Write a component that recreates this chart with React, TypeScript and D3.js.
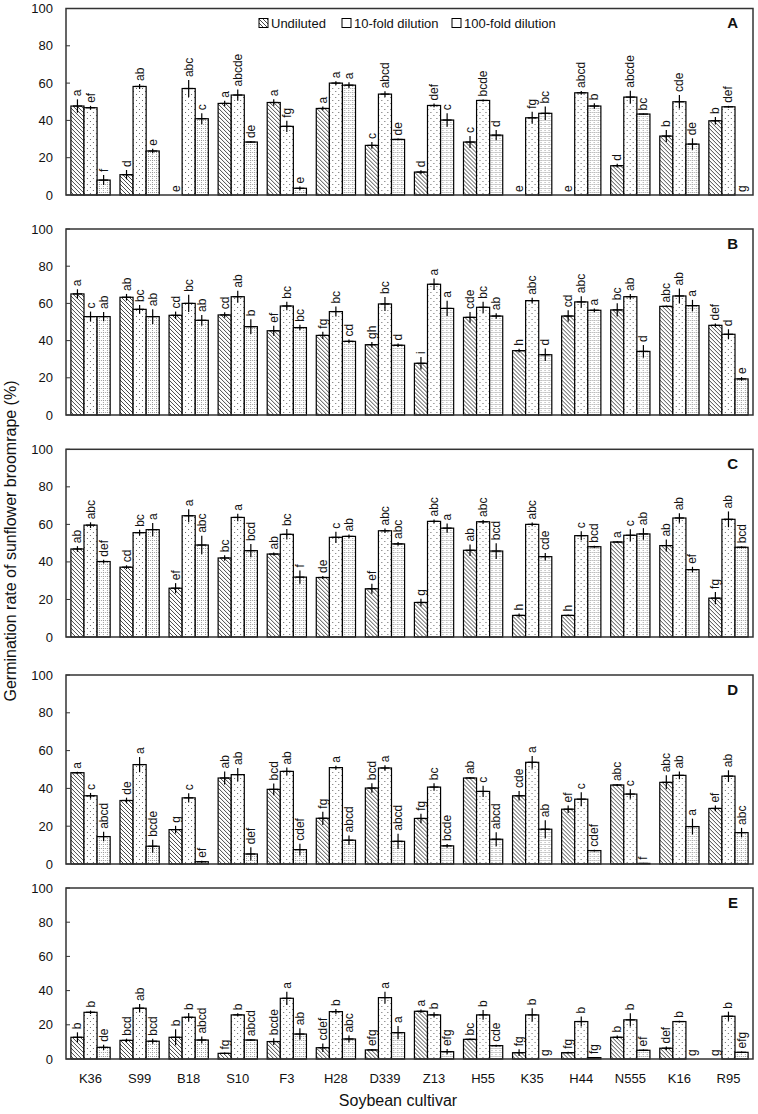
import React from 'react';
import * as d3 from 'd3';

const cultivars = ['K36', 'S99', 'B18', 'S10', 'F3', 'H28', 'D339', 'Z13', 'H55', 'K35', 'H44', 'N555', 'K16', 'R95'];
const seriesNames = ['Undiluted', '10-fold dilution', '100-fold dilution'];
const yTicks = [0, 20, 40, 60, 80, 100];
const panelLabels = ['A', 'B', 'C', 'D', 'E'];

// Panel A
const meansA = [
  [47.7, 10.9, 0, 49.1, 49.6, 46.4, 26.6, 12.3, 28.4, 0, 0, 15.7, 31.6, 39.8],
  [46.8, 58.2, 57.1, 53.6, 36.8, 60, 54.1, 48, 50.7, 41.4, 54.8, 52.5, 50, 47.3],
  [8.0, 23.6, 40.9, 28.4, 3.6, 58.9, 29.8, 40.2, 32.1, 43.8, 47.7, 43.4, 27.3, 0],
];
const errA = [
  [3.6, 2.5, 0, 1.5, 1.8, 1, 1.8, 1, 3.2, 0, 0, 1, 3.2, 2],
  [1, 1.3, 4.5, 3, 3, 1, 1.5, 1, 0.5, 3.2, 1, 3.4, 3.6, 0.5],
  [2.7, 1.2, 2.9, 0.5, 1, 1.5, 0.5, 3.6, 2.7, 3.6, 1.5, 0.3, 3.1, 0],
];
const lettersA = [
  ['a', 'd', 'e', 'a', 'a', 'a', 'c', 'd', 'c', 'e', 'e', 'd', 'b', 'b'],
  ['ef', 'ab', 'abc', 'abcde', 'fg', 'a', 'abcd', 'def', 'bcde', 'fg', 'abcd', 'abcde', 'cde', 'def'],
  ['f', 'e', 'c', 'de', 'e', 'a', 'de', 'c', 'd', 'bc', 'b', 'bc', 'de', 'g'],
];

// Panel B
const meansB = [
  [65.1, 63.3, 53.6, 53.8, 45.3, 42.8, 37.8, 27.8, 52.5, 34.6, 53.2, 56.5, 58.4, 48.2],
  [52.9, 56.8, 60, 63.6, 58.6, 55.6, 59.7, 70.3, 57.9, 61.5, 60.8, 63.6, 64, 43.4],
  [52.9, 52.9, 50.9, 47.5, 47, 39.6, 37.5, 57.3, 53.2, 32.4, 56.3, 34.2, 58.8, 19.4],
];
const errB = [
  [2.5, 1.8, 2, 1.5, 2.7, 2, 1.5, 3.4, 2.9, 1, 3.1, 3.6, 0.5, 1],
  [2.7, 2.3, 4.6, 3.2, 2.3, 2.7, 3.8, 3.1, 3, 1.5, 3.1, 1.5, 4, 2.7],
  [2.5, 4, 2.9, 4, 1.5, 1, 1, 4.1, 1.5, 3.4, 1, 3.4, 3.1, 1],
];
const lettersB = [
  ['a', 'ab', 'cd', 'cd', 'ef', 'fg', 'gh', 'i', 'cde', 'h', 'cd', 'bc', 'abc', 'def'],
  ['c', 'bc', 'bc', 'ab', 'bc', 'bc', 'bc', 'a', 'bc', 'abc', 'abc', 'ab', 'ab', 'd'],
  ['ab', 'ab', 'ab', 'b', 'bc', 'cd', 'd', 'a', 'ab', 'd', 'a', 'd', 'a', 'e'],
];

// Panel C
const meansC = [
  [46.9, 37.2, 26, 42.1, 44.2, 31.7, 25.7, 18.4, 46.2, 11.5, 11.5, 50.6, 48.7, 20.7],
  [59.6, 55.6, 64.6, 63.7, 54.7, 53.1, 56.6, 61.6, 61.4, 60, 54, 54.2, 63.4, 62.7],
  [40.2, 57.2, 49, 46, 31.9, 53.6, 49.6, 58, 45.8, 42.8, 48.1, 54.9, 35.9, 47.8],
];
const errC = [
  [1.5, 1, 2.7, 1.5, 0.8, 0.8, 2.7, 2, 3.1, 1, 0.5, 0.5, 3.2, 3.3],
  [1.5, 1.5, 3.5, 2, 2.8, 3, 1.2, 1, 1, 1, 2.4, 3.2, 2.5, 4.2],
  [1, 3.5, 4.9, 3.5, 3.5, 1, 1, 2.5, 4.2, 2, 0.5, 3.1, 1.5, 0.5],
];
const lettersC = [
  ['ab', 'cd', 'ef', 'bc', 'ab', 'de', 'ef', 'g', 'ab', 'h', 'h', 'a', 'ab', 'fg'],
  ['abc', 'bc', 'a', 'a', 'bc', 'c', 'abc', 'abc', 'abc', 'abc', 'c', 'c', 'ab', 'ab'],
  ['def', 'a', 'abc', 'bcd', 'f', 'ab', 'abc', 'a', 'bcd', 'cde', 'bcd', 'ab', 'ef', 'bcd'],
];

// Panel D
const meansD = [
  [48.3, 33.6, 18.2, 45.5, 39.5, 24.2, 40.2, 24.1, 45.5, 36.1, 29, 41.8, 43.2, 29.4],
  [36.1, 52.6, 35, 47.3, 49, 51, 50.8, 40.7, 38.4, 53.8, 34.3, 37, 46.9, 46.5],
  [14.5, 9.4, 1.2, 5.3, 7.6, 12.6, 12, 9.6, 13.1, 18.4, 7.1, 0.3, 19.8, 16.6],
];
const errD = [
  [0.5, 1.5, 2, 3.5, 3.1, 3.5, 2.5, 2.5, 0.5, 2.5, 2, 0.5, 3.7, 1.5],
  [1.5, 4, 2.5, 3.5, 2, 1, 1.5, 2, 3, 3.4, 3.7, 2.5, 2, 3.1],
  [2.5, 3.4, 0.5, 3.5, 3.1, 2.5, 4, 1, 3.7, 4.8, 0.5, 0.3, 4.2, 2.5],
];
const lettersD = [
  ['a', 'de', 'g', 'ab', 'bcd', 'fg', 'bcd', 'fg', 'ab', 'cde', 'ef', 'abc', 'abc', 'ef'],
  ['c', 'a', 'c', 'ab', 'ab', 'a', 'a', 'bc', 'c', 'a', 'c', 'c', 'ab', 'ab'],
  ['abcd', 'bcde', 'ef', 'def', 'cdef', 'abcd', 'abcd', 'bcde', 'abcd', 'ab', 'cdef', 'f', 'a', 'abc'],
];

// Panel E
const meansE = [
  [12.7, 10.9, 12.7, 3.3, 10.2, 6.6, 5.3, 27.9, 11.5, 3.7, 3.7, 12.7, 6.3, 0],
  [27.3, 29.7, 24.4, 25.8, 35.5, 27.7, 35.9, 25.8, 25.8, 25.8, 21.9, 22.9, 21.9, 25],
  [6.8, 10.4, 11.1, 11.1, 14.6, 11.7, 15.4, 4.3, 7.8, 0, 0.8, 5.1, 0, 3.9],
];
const errE = [
  [2.9, 1, 4.7, 0.5, 2, 2.5, 0.5, 1, 0.5, 2, 0.5, 1, 1, 0],
  [1, 2.5, 2.5, 1, 3.9, 1.5, 3.5, 1.5, 2.9, 3.9, 2.9, 3.9, 0.5, 2.7],
  [1.5, 1.5, 2, 0.5, 3.4, 2, 3.9, 1.5, 0.5, 0, 0.3, 0.5, 0, 0.5],
];
const lettersE = [
  ['b', 'bcd', 'b', 'fg', 'bcde', 'cdef', 'efg', 'a', 'bc', 'fg', 'fg', 'b', 'def', 'g'],
  ['b', 'ab', 'b', 'b', 'a', 'b', 'a', 'b', 'b', 'b', 'b', 'b', 'b', 'b'],
  ['de', 'bcd', 'abcd', 'abcd', 'ab', 'abc', 'a', 'efg', 'cde', 'g', 'fg', 'ef', 'g', 'efg'],
];

const FONT = 'Liberation Sans, Arial, Helvetica, sans-serif';

export default function App() {
  const W = 758;
  const H = 1114;
  const left = 66;
  const right = 753;

  const panelData = [
    { means: meansA, errs: errA, letters: lettersA, top: 8.5, bottom: 195 },
    { means: meansB, errs: errB, letters: lettersB, top: 229, bottom: 415 },
    { means: meansC, errs: errC, letters: lettersC, top: 449.3, bottom: 637 },
    { means: meansD, errs: errD, letters: lettersD, top: 675, bottom: 864 },
    { means: meansE, errs: errE, letters: lettersE, top: 888, bottom: 1059 },
  ];

  const x0 = d3.scaleBand<string>().domain(cultivars).range([left, right]).paddingInner(0.2).paddingOuter(0.1);
  const x1 = d3.scaleBand<string>().domain(seriesNames).range([0, x0.bandwidth()]).padding(0);
  const fills = ['url(#hatch)', 'url(#dots)', 'url(#grid)'];
  const legendFills = ['url(#hatch)', '#fff', '#fff'];

  const legendItems = [
    { name: seriesNames[0], x: 259 },
    { name: seriesNames[1], x: 342 },
    { name: seriesNames[2], x: 452 },
  ];

  return (
    <svg width={W} height={H} style={{ position: 'absolute', left: 0, top: 0, background: '#fff' }} fontFamily={FONT}>
      <defs>
        <pattern id="hatch" width="4" height="4" patternUnits="userSpaceOnUse">
          <rect width="4" height="4" fill="#fff" />
          <path d="M-1,-1 L5,5 M-1,3 L1,5 M3,-1 L5,1" stroke="#333" strokeWidth="0.9" />
        </pattern>
        <pattern id="dots" width="6" height="6" patternUnits="userSpaceOnUse">
          <rect width="6" height="6" fill="#fff" />
          <rect x="1" y="1" width="1" height="1" fill="#666" />
          <rect x="4" y="4" width="1" height="1" fill="#666" />
        </pattern>
        <pattern id="grid" width="4" height="4" patternUnits="userSpaceOnUse">
          <rect width="4" height="4" fill="#fff" />
          <path d="M0,0.5 H4 M0.5,0 V4" stroke="#8a8a8a" strokeWidth="0.8" strokeDasharray="1,1" />
        </pattern>
      </defs>
      <rect x={0} y={0} width={W} height={H} fill="#fff" />

      {panelData.map((p, pi) => {
        const y = d3.scaleLinear().domain([0, 100]).range([p.bottom, p.top]);
        return (
          <g key={pi}>
            {yTicks.map((t) => (
              <g key={t}>
                <line x1={left} x2={left + 4} y1={y(t)} y2={y(t)} stroke="#333" strokeWidth={1} />
                <text x={53} y={y(t)} textAnchor="end" dominantBaseline="central" fontSize={13} fill="#111">
                  {t}
                </text>
              </g>
            ))}
            {cultivars.map((c, ci) => (
              <g key={c} transform={`translate(${x0(c)},0)`}>
                {seriesNames.map((s, si) => {
                  const v = p.means[si][ci];
                  const e = p.errs[si][ci];
                  const bx = x1(s) as number;
                  const bw = x1.bandwidth();
                  const cx = bx + bw / 2;
                  const topV = v + e;
                  return (
                    <g key={s}>
                      {v > 0 && (
                        <rect x={bx} y={y(v)} width={bw} height={y(0) - y(v)} fill={fills[si]} stroke="#000" strokeWidth={1.2} />
                      )}
                      {(v > 0 || e > 0) && (
                        <g stroke="#000" strokeWidth={1.2}>
                          <line x1={cx} x2={cx} y1={y(Math.max(0, v - e))} y2={y(v + e)} />
                          <line x1={cx - 4.5} x2={cx + 4.5} y1={y(v)} y2={y(v)} />
                        </g>
                      )}
                      <text
                        transform={`translate(${cx},${y(topV) - 3}) rotate(-90)`}
                        textAnchor="start"
                        dominantBaseline="central"
                        fontSize={12}
                        fill="#111"
                      >
                        {p.letters[si][ci]}
                      </text>
                    </g>
                  );
                })}
              </g>
            ))}
            <rect x={left} y={p.top} width={right - left} height={p.bottom - p.top} fill="none" stroke="#333" strokeWidth={1.5} />
            <text x={738} y={p.top + 14} textAnchor="end" dominantBaseline="central" fontSize={15} fontWeight="bold" fill="#111">
              {panelLabels[pi]}
            </text>
          </g>
        );
      })}

      {legendItems.map((it, i) => (
        <g key={it.name}>
          <rect x={it.x} y={18.5} width={9} height={9} fill={legendFills[i]} stroke="#000" strokeWidth={1} />
          <text x={it.x + 12} y={23} dominantBaseline="central" fontSize={13} fill="#111">
            {it.name}
          </text>
        </g>
      ))}

      {cultivars.map((c) => (
        <text key={c} x={(x0(c) as number) + x0.bandwidth() / 2} y={1078} textAnchor="middle" dominantBaseline="central" fontSize={13} fill="#111">
          {c}
        </text>
      ))}
      <text x={398} y={1100} textAnchor="middle" dominantBaseline="central" fontSize={16} fill="#111">
        Soybean cultivar
      </text>
      <text transform="translate(16,541) rotate(-90)" textAnchor="middle" fontSize={16} fill="#111">
        Germination rate of sunflower broomrape (%)
      </text>
    </svg>
  );
}
